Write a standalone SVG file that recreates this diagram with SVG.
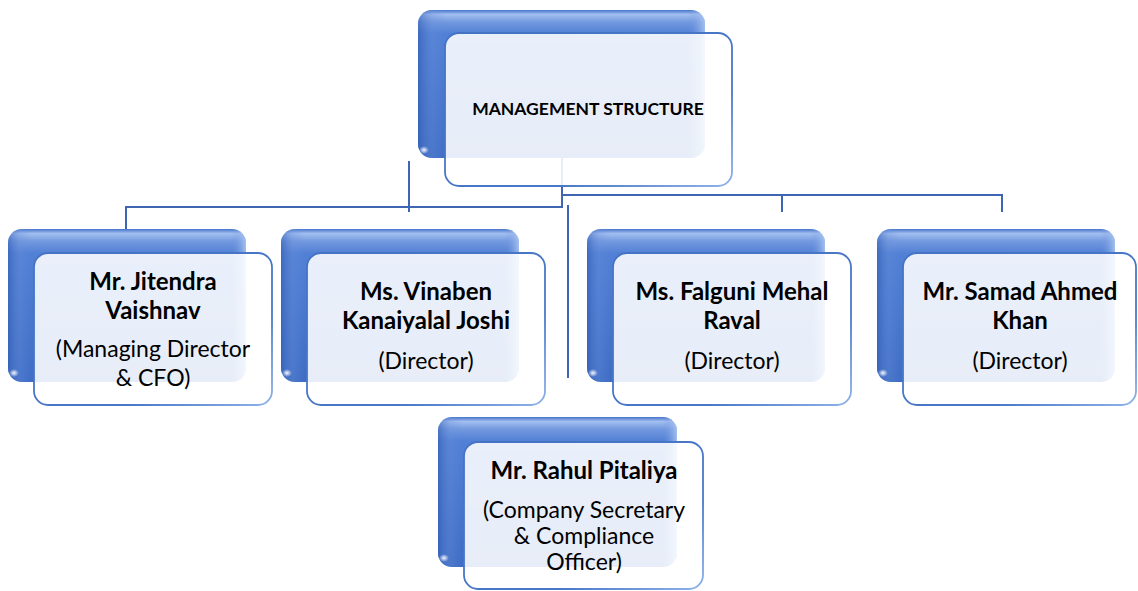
<svg xmlns="http://www.w3.org/2000/svg" width="1138" height="591" viewBox="0 0 1138 591">
<defs>
<linearGradient id="backGrad" x1="0" y1="0" x2="0" y2="1">
<stop offset="0" stop-color="#4675cb"/>
<stop offset="0.03" stop-color="#a3bff0"/>
<stop offset="0.08" stop-color="#7399df"/>
<stop offset="0.16" stop-color="#5180d5"/>
<stop offset="1" stop-color="#3f6dc5"/>
</linearGradient>
<linearGradient id="sideGrad" x1="0" y1="0" x2="1" y2="0">
<stop offset="0" stop-color="#2f5bb3" stop-opacity="0.6"/>
<stop offset="0.05" stop-color="#6a90da" stop-opacity="0.3"/>
<stop offset="0.1" stop-color="#6a90da" stop-opacity="0"/>
<stop offset="0.94" stop-color="#6a90da" stop-opacity="0"/>
<stop offset="1" stop-color="#b3ccf4" stop-opacity="0.8"/>
</linearGradient>
<radialGradient id="gloss" cx="0.5" cy="0.5" r="0.5">
<stop offset="0" stop-color="#ffffff" stop-opacity="0.95"/>
<stop offset="1" stop-color="#ffffff" stop-opacity="0"/>
</radialGradient>
<linearGradient id="frontStroke" x1="0" y1="0" x2="1" y2="1">
<stop offset="0" stop-color="#4472c4"/>
<stop offset="0.7" stop-color="#4a78c8"/>
<stop offset="1" stop-color="#8fb2e8"/>
</linearGradient>
</defs>
<style>
.back{fill:url(#backGrad);}
.side{fill:url(#sideGrad);}
.gloss{fill:url(#gloss);}
.front{fill:#ffffff;fill-opacity:0.88;stroke:url(#frontStroke);stroke-width:1.8;}
.conn{stroke:#3e66b3;stroke-width:2;fill:none;}
.title{font-family:"Lato","Open Sans",sans-serif;font-weight:bold;font-size:17.5px;fill:#000;text-anchor:middle;}
.name{font-family:"Lato","Open Sans",sans-serif;font-weight:bold;font-size:24px;fill:#000;text-anchor:middle;}
.role{font-family:"Lato","Open Sans",sans-serif;font-size:23px;fill:#000;text-anchor:middle;}
</style>
<rect width="1138" height="591" fill="#ffffff"/>
<g id="connectors">
<path class="conn" d="M562,157 V207 H126 V229"/>
<path class="conn" d="M562,195 H1002 V212"/>
<path class="conn" d="M782,195 V212"/>
<path class="conn" d="M409,161 V212"/>
<path class="conn" d="M568,205 V378"/>
</g>
<g id="node-top">
<rect class="back" x="418" y="10" width="287" height="148" rx="14"/>
<rect class="side" x="418" y="10" width="287" height="148" rx="14"/>
<ellipse class="gloss" cx="424" cy="150" rx="5" ry="4"/>
<rect class="front" x="445" y="33" width="287" height="153" rx="14"/>
<text class="title" x="588" y="115">MANAGEMENT STRUCTURE</text>
</g>
<g id="node-jitendra">
<rect class="back" x="8" y="229" width="238" height="153" rx="14"/>
<rect class="side" x="8" y="229" width="238" height="153" rx="14"/>
<ellipse class="gloss" cx="14" cy="373" rx="5" ry="4"/>
<rect class="front" x="34" y="253" width="238" height="152" rx="14"/>
<text class="name" x="153" y="290">Mr. Jitendra</text>
<text class="name" x="153" y="319">Vaishnav</text>
<text class="role" x="153" y="357">(Managing Director</text>
<text class="role" x="153" y="386">&amp; CFO)</text>
</g>
<g id="node-vinaben">
<rect class="back" x="281" y="229" width="238" height="153" rx="14"/>
<rect class="side" x="281" y="229" width="238" height="153" rx="14"/>
<ellipse class="gloss" cx="287" cy="373" rx="5" ry="4"/>
<rect class="front" x="307" y="253" width="238" height="152" rx="14"/>
<text class="name" x="426" y="300">Ms. Vinaben</text>
<text class="name" x="426" y="329">Kanaiyalal Joshi</text>
<text class="role" x="426" y="369">(Director)</text>
</g>
<g id="node-falguni">
<rect class="back" x="587" y="229" width="238" height="153" rx="14"/>
<rect class="side" x="587" y="229" width="238" height="153" rx="14"/>
<ellipse class="gloss" cx="593" cy="373" rx="5" ry="4"/>
<rect class="front" x="613" y="253" width="238" height="152" rx="14"/>
<text class="name" x="732" y="300">Ms. Falguni Mehal</text>
<text class="name" x="732" y="329">Raval</text>
<text class="role" x="732" y="369">(Director)</text>
</g>
<g id="node-samad">
<rect class="back" x="877" y="229" width="238" height="153" rx="14"/>
<rect class="side" x="877" y="229" width="238" height="153" rx="14"/>
<ellipse class="gloss" cx="883" cy="373" rx="5" ry="4"/>
<rect class="front" x="903" y="253" width="233" height="152" rx="14"/>
<text class="name" x="1020" y="300">Mr. Samad Ahmed</text>
<text class="name" x="1020" y="329">Khan</text>
<text class="role" x="1020" y="369">(Director)</text>
</g>
<g id="node-rahul">
<rect class="back" x="438" y="417" width="239" height="150" rx="14"/>
<rect class="side" x="438" y="417" width="239" height="150" rx="14"/>
<ellipse class="gloss" cx="444" cy="558" rx="5" ry="4"/>
<rect class="front" x="464" y="442" width="239" height="147" rx="14"/>
<text class="name" x="584" y="479">Mr. Rahul Pitaliya</text>
<text class="role" x="584" y="518">(Company Secretary</text>
<text class="role" x="584" y="544">&amp; Compliance</text>
<text class="role" x="584" y="570">Officer)</text>
</g>
</svg>
